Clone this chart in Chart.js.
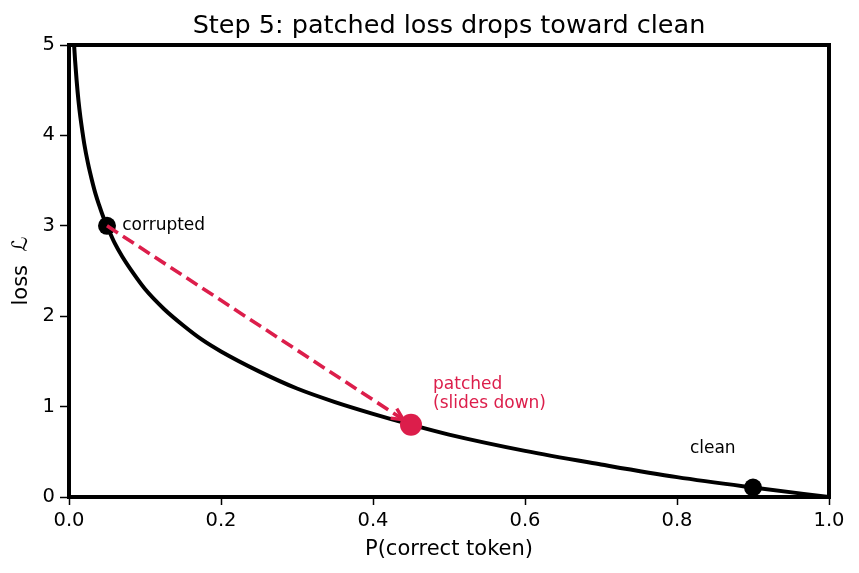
<!DOCTYPE html>
<html>
<head>
<meta charset="utf-8">
<script src="https://cdn.jsdelivr.net/npm/chart.js@4/dist/chart.umd.min.js"></script>
<style>
  html, body { margin: 0; padding: 0; background: #fff; }
  #wrap { width: 859px; height: 573px; }
</style>
</head>
<body>
<div id="wrap"><canvas id="c"></canvas></div>
<script>
// curve: P(correct token) vs loss
const curveP = [0.0067, 0.008, 0.01, 0.0125, 0.015, 0.0175, 0.02, 0.025, 0.03, 0.035, 0.04, 0.045, 0.05, 0.06, 0.07, 0.085, 0.1, 0.125, 0.15, 0.175, 0.2, 0.25, 0.3, 0.35, 0.4, 0.45, 0.5, 0.6, 0.7, 0.8, 0.9, 1.0];
const curveLoss = [5.0, 4.83, 4.61, 4.38, 4.2, 4.05, 3.91, 3.69, 3.51, 3.35, 3.22, 3.1, 3.0, 2.81, 2.66, 2.47, 2.3, 2.08, 1.9, 1.74, 1.61, 1.39, 1.2, 1.05, 0.92, 0.8, 0.69, 0.51, 0.36, 0.22, 0.105, 0.0];

const pointNames = ['corrupted', 'patched', 'clean'];
const pointP = [0.05, 0.45, 0.9];
const pointLoss = [3.0, 0.8, 0.105];

const xTicks = [0, 0.2, 0.4, 0.6, 0.8, 1.0];
const yTicks = [0, 1, 2, 3, 4, 5];

const TITLE = 'Step 5: patched loss drops toward clean';
const RED = '#dc1e4b';
const FONT = 'DejaVu Sans';

const framePlugin = {
  id: 'frame',
  afterDatasetsDraw(chart) {
    const { ctx, chartArea: a, scales: { x, y } } = chart;
    ctx.save();
    // dashed arrow corrupted -> patched
    const x0 = x.getPixelForValue(pointP[0]), y0 = y.getPixelForValue(pointLoss[0]);
    const x1 = x.getPixelForValue(pointP[1]), y1 = y.getPixelForValue(pointLoss[1]);
    const ang = Math.atan2(y1 - y0, x1 - x0);
    const ex = x1 - Math.cos(ang) * 9, ey = y1 - Math.sin(ang) * 9;
    ctx.strokeStyle = RED;
    ctx.lineWidth = 3.6;
    ctx.setLineDash([13, 6]);
    ctx.beginPath();
    ctx.moveTo(x0, y0);
    ctx.lineTo(ex - Math.cos(ang) * 3, ey - Math.sin(ang) * 3);
    ctx.stroke();
    ctx.setLineDash([]);
    ctx.lineWidth = 3.4;
    ctx.beginPath();
    ctx.moveTo(ex - Math.cos(ang - 0.45) * 13, ey - Math.sin(ang - 0.45) * 13);
    ctx.lineTo(ex, ey);
    ctx.lineTo(ex - Math.cos(ang + 0.45) * 13, ey - Math.sin(ang + 0.45) * 13);
    ctx.stroke();

    // point labels
    ctx.font = '17px "' + FONT + '"';
    ctx.fillStyle = '#000';
    ctx.textAlign = 'left';
    ctx.textBaseline = 'middle';
    ctx.fillText(pointNames[0], x.getPixelForValue(0.07), y.getPixelForValue(3.0));
    ctx.textBaseline = 'alphabetic';
    ctx.fillText(pointNames[2], x.getPixelForValue(0.817), y.getPixelForValue(0.49));
    ctx.fillStyle = RED;
    ctx.fillText('patched', x.getPixelForValue(0.479), y.getPixelForValue(1.2));
    ctx.fillText('(slides down)', x.getPixelForValue(0.479), y.getPixelForValue(0.98));

    // axes frame
    ctx.strokeStyle = '#000';
    ctx.lineWidth = 4;
    ctx.strokeRect(a.left, a.top, a.right - a.left, a.bottom - a.top);

    // title, centred over the axes
    ctx.font = '25.5px "' + FONT + '"';
    ctx.fillStyle = '#000';
    ctx.textAlign = 'center';
    ctx.fillText(TITLE, (a.left + a.right) / 2, 33);
    ctx.restore();
  }
};

new Chart(document.getElementById('c'), {
  type: 'line',
  data: {
    datasets: [
      {
        label: 'loss curve',
        data: curveP.map((p, i) => ({ x: p, y: curveLoss[i] })),
        borderColor: '#000',
        borderWidth: 4,
        pointRadius: 0,
        cubicInterpolationMode: 'monotone',
        order: 3
      },
      {
        type: 'scatter',
        label: 'points',
        data: pointP.map((p, i) => ({ x: p, y: pointLoss[i] })),
        backgroundColor: ['#000', RED, '#000'],
        borderWidth: 0,
        pointRadius: [9, 11, 9],
        order: 1
      }
    ]
  },
  plugins: [framePlugin],
  options: {
    responsive: true,
    maintainAspectRatio: false,
    animation: false,
    events: [],
    layout: { padding: { left: 0, right: 30, top: 45, bottom: 0 } },
    plugins: {
      legend: { display: false },
      tooltip: { enabled: false },
      title: { display: false }
    },
    scales: {
      x: {
        type: 'linear',
        min: 0, max: 1,
        afterBuildTicks: s => { s.ticks = xTicks.map(v => ({ value: v })); },
        afterFit: s => { s.height = 76; },
        ticks: {
          color: '#000',
          font: { family: FONT, size: 19.5 },
          padding: 4,
          callback: v => v.toFixed(1)
        },
        grid: { drawOnChartArea: false, color: '#000', tickLength: 8, tickWidth: 1.5 },
        border: { display: false },
        title: {
          display: true,
          text: 'P(correct token)',
          color: '#000',
          font: { family: FONT, size: 21 },
          padding: { top: 0, bottom: 11 }
        }
      },
      y: {
        type: 'linear',
        min: 0, max: 5,
        afterBuildTicks: s => { s.ticks = yTicks.map(v => ({ value: v })); },
        afterFit: s => { s.width = 69; },
        ticks: {
          color: '#000',
          font: { family: FONT, size: 19.5 },
          padding: 5,
          callback: v => String(v)
        },
        grid: { drawOnChartArea: false, color: '#000', tickLength: 9, tickWidth: 1.5 },
        border: { display: false },
        title: {
          display: true,
          text: 'loss  \u2112',
          color: '#000',
          font: { family: FONT, size: 21 },
          padding: { top: 9, bottom: 0 }
        }
      }
    }
  }
});
</script>
</body>
</html>
